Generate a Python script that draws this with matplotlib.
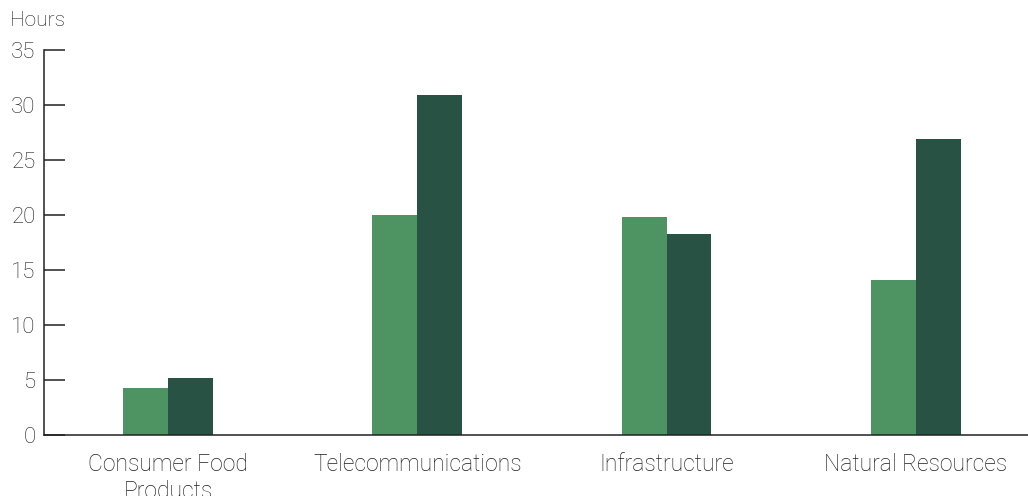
import numpy as np
import matplotlib.pyplot as plt

categories = ["Consumer Food\nProducts", "Telecommunications", "Infrastructure", "Natural Resources"]
series_a = [4.3, 20.0, 19.8, 14.1]
series_b = [5.2, 30.9, 18.3, 26.9]
yticks = [0, 5, 10, 15, 20, 25, 30, 35]

light = "#4e9462"
dark = "#285244"
text_col = "#1e1e1e"

plt.rcParams["font.family"] = ["Roboto", "DejaVu Sans"]
plt.rcParams["font.weight"] = "light"

fig = plt.figure(figsize=(10.28, 4.96), dpi=100)
ax = fig.add_axes([44 / 1028, 61 / 496, 984 / 1028, 385 / 496])

x = np.arange(len(categories))
w = 0.18
ax.bar(x - w / 2, series_a, width=w, color=light, zorder=2)
ax.bar(x + w / 2, series_b, width=w, color=dark, zorder=2)

ax.set_xlim(-0.498, 3.45)
ax.set_ylim(0, 35)
ax.set_yticks(yticks)
ax.set_xticks(x)
ax.set_xticklabels(categories, fontsize=16.5, color=text_col, linespacing=1.2)
ax.tick_params(axis="x", length=0, pad=13)
ax.tick_params(axis="y", direction="in", length=15, width=1.1, pad=6,
               labelsize=16, labelcolor=text_col, color="#222222")

for s in ["top", "right"]:
    ax.spines[s].set_visible(False)
for s in ["left", "bottom"]:
    ax.spines[s].set_linewidth(1.1)
    ax.spines[s].set_color("#222222")

fig.text(10 / 1028, 1 - 21 / 496, "Hours", fontsize=15, color=text_col, va="center", ha="left")

fig.savefig("out.png", dpi=100)
